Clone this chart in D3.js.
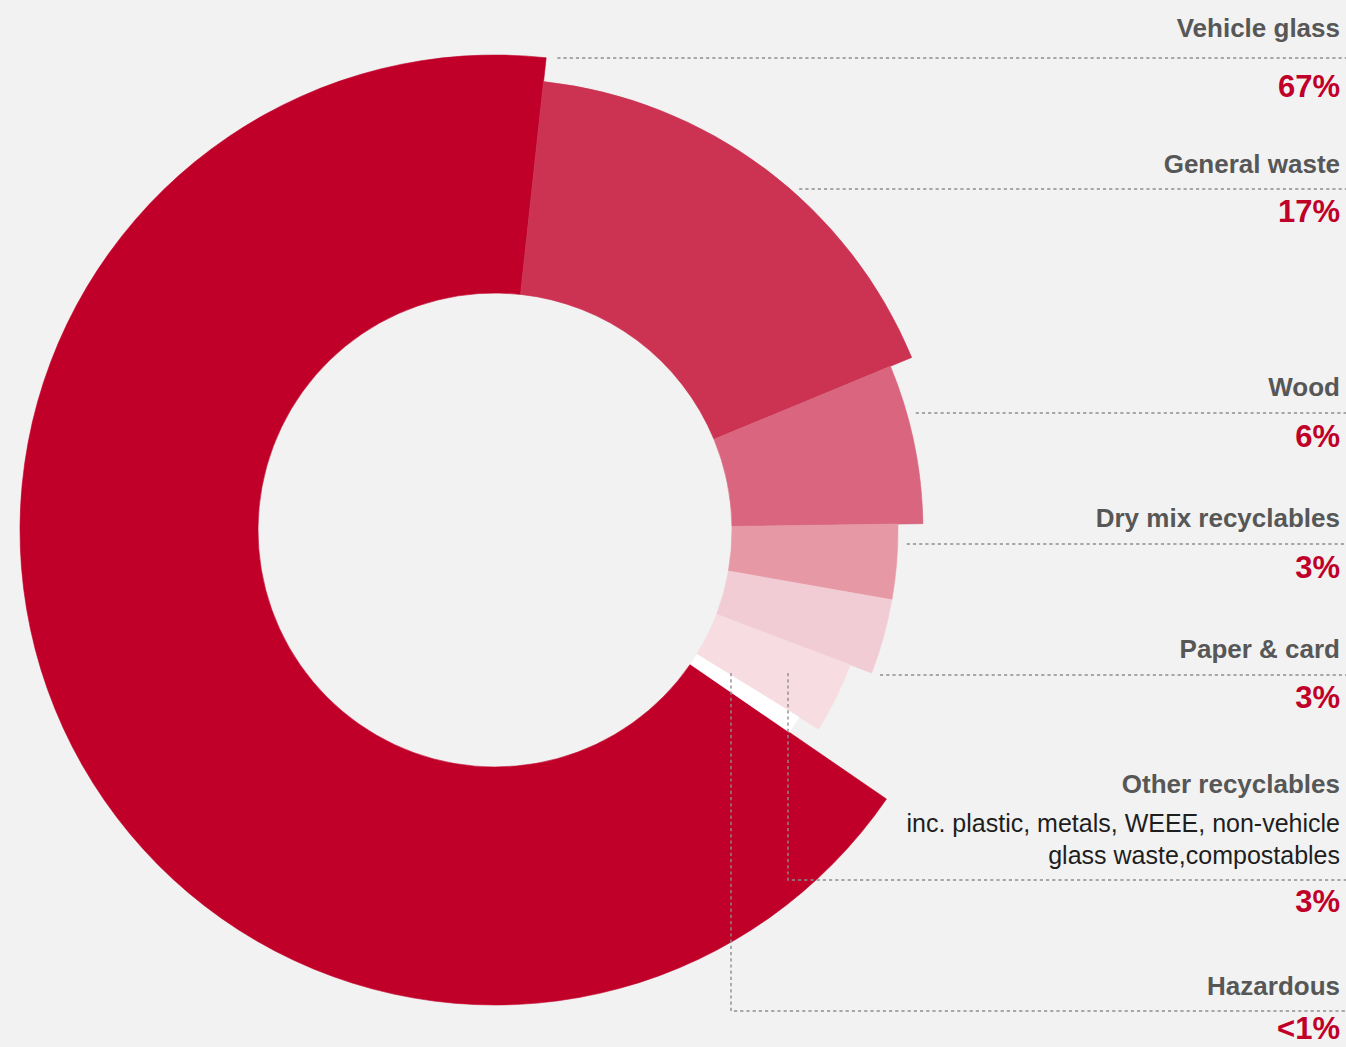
<!DOCTYPE html>
<html>
<head>
<meta charset="utf-8">
<script src="https://cdn.jsdelivr.net/npm/d3@7"></script>
<style>
  html, body { margin: 0; padding: 0; background: #F2F2F2; }
  svg { display: block; }
  text { font-family: "Liberation Sans", Arial, Helvetica, sans-serif; }
</style>
</head>
<body>
<svg id="chart" width="1346" height="1047"></svg>
<script>
// Waste stream breakdown (share of total, %)
const categories = ["Vehicle glass", "General waste", "Wood", "Dry mix recyclables",
                    "Paper & card", "Other recyclables", "Hazardous"];
const shares = [67, 17, 6, 3, 3, 3, 0.8];
const shareLabels = ["67%", "17%", "6%", "3%", "3%", "3%", "<1%"];
const notes = [[], [], [], [], [], ["inc. plastic, metals, WEEE, non-vehicle", "glass waste,compostables"], []];

// Ring styling: each slice steps in a little further than the previous one
const ringOuter = [475, 451, 428, 403, 403, 380, 357];
const fills = ["#C00028", "#CC3352", "#D9667E", "#E699A5", "#F2CCD5", "#F7DCE1", "#FFFFFF"];

// Label rows on the right: baseline of name, leader line y, baseline of value
const rows = [
  { name: 37,  line: 58,   value: 97 },
  { name: 173, line: 189,  value: 222 },
  { name: 396, line: 413,  value: 447 },
  { name: 527, line: 544,  value: 578 },
  { name: 658, line: 675,  value: 708 },
  { name: 793, line: 880,  value: 912, drop: { x: 788, y: 673 } },
  { name: 995, line: 1011, value: 1039, drop: { x: 731, y: 673 } }
];

const W = 1346, H = 1047;
const cx = 495, cy = 530, inner = 237;
const textRight = 1340;

const svg = d3.select("#chart");
svg.append("rect").attr("width", W).attr("height", H).attr("fill", "#F2F2F2");

const deg = Math.PI / 180;
const start = 124.5 * deg;
const pie = d3.pie().sort(null).value(d => d).startAngle(start).endAngle(start + 2 * Math.PI);
const arcs = pie(shares);

const arc = d3.arc()
  .innerRadius(inner)
  .outerRadius(d => ringOuter[d.index]);

const g = svg.append("g").attr("transform", `translate(${cx},${cy})`);
g.selectAll("path.slice")
  .data(arcs)
  .join("path")
  .attr("class", "slice")
  .attr("d", arc)
  .attr("fill", d => fills[d.index])
  .attr("stroke", d => fills[d.index])
  .attr("stroke-width", 0.6);

// Leader lines
const lead = svg.append("g")
  .attr("fill", "none")
  .attr("stroke", "#8E8E8E")
  .attr("stroke-width", 1.4)
  .attr("stroke-dasharray", "3.2,3");

rows.forEach((r, i) => {
  if (r.drop) {
    lead.append("path")
      .attr("d", `M${r.drop.x},${r.drop.y}V${r.line}H${W}`);
  } else {
    const dy = r.line - cy;
    const ro = ringOuter[i];
    const x0 = cx + Math.sqrt(Math.max(0, ro * ro - dy * dy)) + 9;
    lead.append("path").attr("d", `M${x0},${r.line}H${W}`);
  }
});

// Labels
const labels = svg.append("g").attr("text-anchor", "end");
rows.forEach((r, i) => {
  labels.append("text")
    .attr("x", textRight).attr("y", r.name)
    .attr("font-size", 26).attr("font-weight", "bold")
    .attr("fill", "#575757")
    .text(categories[i]);
  notes[i].forEach((line, k) => {
    labels.append("text")
      .attr("x", textRight).attr("y", r.name + 39 + k * 32)
      .attr("font-size", 25)
      .attr("fill", "#1E1E1E")
      .text(line);
  });
  labels.append("text")
    .attr("x", textRight).attr("y", r.value)
    .attr("font-size", 31).attr("font-weight", "bold")
    .attr("fill", "#C00028")
    .text(shareLabels[i]);
});
</script>
</body>
</html>
